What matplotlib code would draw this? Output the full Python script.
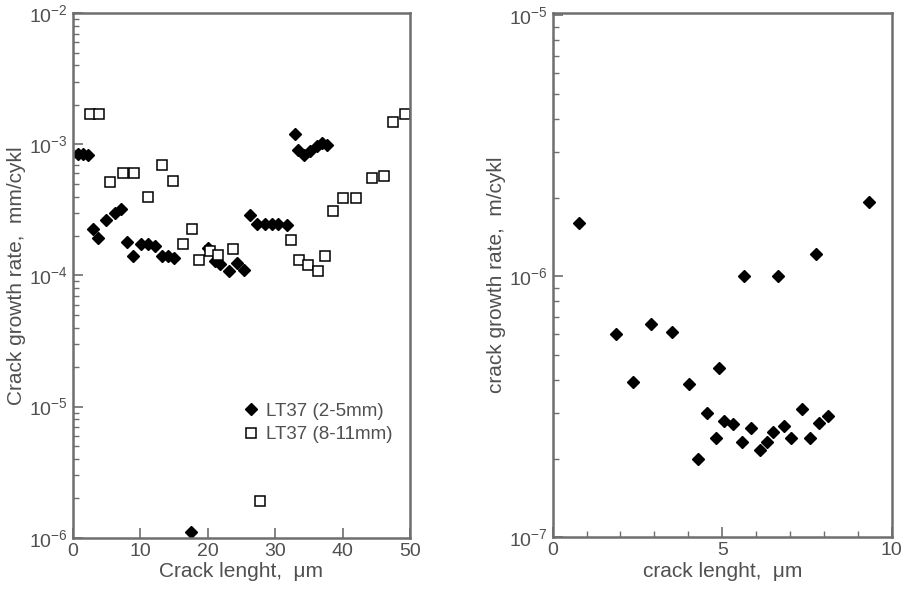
import matplotlib

matplotlib.use("Agg")
import matplotlib.pyplot as plt
from matplotlib.ticker import LogLocator, MultipleLocator, NullFormatter

# left panel: LT37, two crack depth ranges
x_25 = [0.8, 1.6, 2.3, 3.0, 3.8, 4.9, 6.3, 7.1, 8.1, 9.0, 10.2, 11.2, 12.2, 13.2,
        14.2, 15.0, 17.6, 20.1, 21.1, 21.8, 23.1, 24.3, 25.4, 26.3, 27.3, 28.5,
        29.5, 30.5, 31.7, 32.9, 33.4, 34.3, 35.2, 36.2, 36.9, 37.7]
y_25 = [8.5e-4, 8.4e-4, 8.3e-4, 2.27e-4, 1.93e-4, 2.67e-4, 3.0e-4, 3.24e-4, 1.80e-4,
        1.42e-4, 1.73e-4, 1.73e-4, 1.67e-4, 1.42e-4, 1.42e-4, 1.36e-4, 1.11e-6,
        1.63e-4, 1.29e-4, 1.23e-4, 1.08e-4, 1.25e-4, 1.10e-4, 2.87e-4, 2.45e-4,
        2.45e-4, 2.45e-4, 2.45e-4, 2.43e-4, 1.19e-3, 9.06e-4, 8.24e-4, 8.9e-4,
        9.7e-4, 1.02e-3, 9.9e-4]

x_811 = [2.5, 3.9, 5.5, 7.5, 9.1, 11.1, 13.3, 14.9, 16.3, 17.7, 18.8, 20.3, 21.6,
         23.8, 27.8, 32.4, 33.5, 34.9, 36.3, 37.4, 38.6, 40.1, 42.0, 44.3, 46.1,
         47.5, 49.3]
y_811 = [1.71e-3, 1.71e-3, 5.19e-4, 6.08e-4, 6.08e-4, 3.94e-4, 7.0e-4, 5.23e-4,
         1.75e-4, 2.27e-4, 1.32e-4, 1.55e-4, 1.44e-4, 1.58e-4, 1.89e-6, 1.86e-4,
         1.32e-4, 1.2e-4, 1.09e-4, 1.40e-4, 3.12e-4, 3.92e-4, 3.92e-4, 5.57e-4,
         5.73e-4, 1.47e-3, 1.69e-3]

# right panel
x_r = [0.78, 1.86, 2.36, 2.89, 3.52, 4.03, 4.29, 4.54, 4.81, 4.92, 5.06, 5.33,
       5.59, 5.64, 5.85, 6.12, 6.33, 6.51, 6.64, 6.83, 7.03, 7.35, 7.59, 7.77,
       7.86, 8.13, 9.33]
y_r = [1.6e-6, 6.0e-7, 3.94e-7, 6.55e-7, 6.09e-7, 3.88e-7, 1.99e-7, 2.99e-7,
       2.39e-7, 4.46e-7, 2.79e-7, 2.72e-7, 2.32e-7, 1.0e-6, 2.63e-7, 2.15e-7,
       2.32e-7, 2.54e-7, 1.0e-6, 2.67e-7, 2.39e-7, 3.11e-7, 2.39e-7, 1.22e-6,
       2.75e-7, 2.92e-7, 1.92e-6]

plt.rcParams["font.family"] = ["Liberation Sans", "DejaVu Sans"]
plt.rcParams["mathtext.default"] = "regular"

text_c = "#505050"
frame_c = "#6e6e6e"

fig = plt.figure(figsize=(9.05, 5.96), dpi=100)
ax1 = fig.add_axes([0.0803, 0.0978, 0.3727, 0.880])
ax2 = fig.add_axes([0.6107, 0.0985, 0.3746, 0.880])

ax1.plot(x_25, y_25, "D", color="black", ms=6.5, ls="none", label="LT37 (2-5mm)")
ax1.plot(x_811, y_811, "s", mfc="white", mec="black", mew=1.1, ms=7.5, ls="none",
         label="LT37 (8-11mm)")
ax1.set_yscale("log")
ax1.set_xlim(0, 50)
ax1.set_ylim(1e-6, 1e-2)
ax1.xaxis.set_major_locator(MultipleLocator(10))
ax1.set_xlabel("Crack lenght,  \u03bcm", fontsize=15, color=text_c, labelpad=2)
ax1.set_ylabel("Crack growth rate,  mm/cykl", fontsize=15, color=text_c, labelpad=2)
leg = ax1.legend(loc="upper left", bbox_to_anchor=(0.48, 0.272), frameon=False,
                 fontsize=13.5, handletextpad=0.3, labelspacing=0.35,
                 handlelength=1.0, borderaxespad=0)
for t in leg.get_texts():
    t.set_color(text_c)

ax2.plot(x_r, y_r, "D", color="black", ms=6, ls="none")
ax2.set_yscale("log")
ax2.set_xlim(0, 10)
ax2.set_ylim(1e-7, 1.02e-5)
ax2.xaxis.set_major_locator(MultipleLocator(5))
ax2.xaxis.set_minor_locator(MultipleLocator(1))
ax2.set_xlabel("crack lenght,  \u03bcm", fontsize=15, color=text_c, labelpad=2)
ax2.set_ylabel("crack growth rate,  m/cykl", fontsize=15, color=text_c, labelpad=2)

for ax in (ax1, ax2):
    ax.yaxis.set_major_locator(LogLocator(base=10))
    ax.yaxis.set_minor_locator(LogLocator(base=10, subs=range(2, 10)))
    ax.yaxis.set_minor_formatter(NullFormatter())
    ax.tick_params(which="both", direction="in", colors=frame_c, labelcolor=text_c,
                   labelsize=14, top=False, right=False)
    ax.tick_params(which="major", length=7, width=1.2)
    ax.tick_params(which="minor", length=4, width=1.0)
    for s in ax.spines.values():
        s.set_color(frame_c)
        s.set_linewidth(1.8)

fig.savefig("out.png", dpi=100)
